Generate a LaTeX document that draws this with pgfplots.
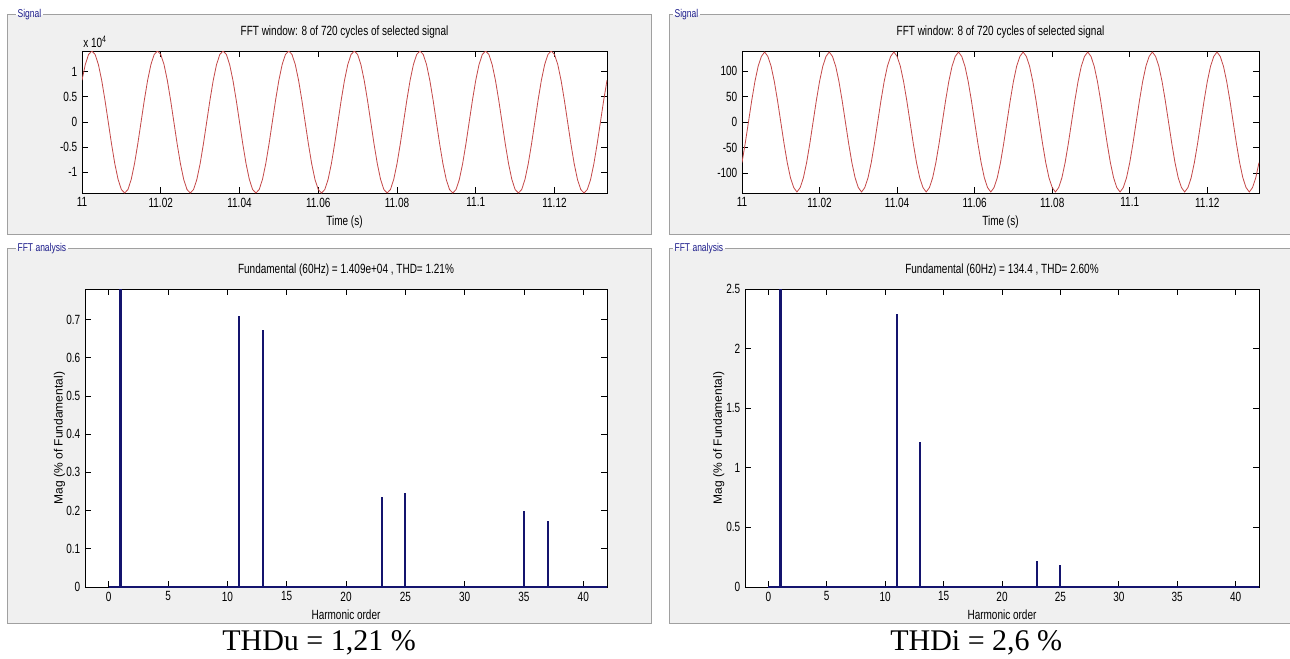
\documentclass[border=0pt]{standalone}
\usepackage{fontspec}
\setmainfont{Liberation Sans}
\newfontfamily\mfont[FakeStretch=0.75]{Liberation Sans}
\newfontfamily\tfont{Liberation Serif}
\usepackage{pgfplots}
\pgfplotsset{compat=1.18}
\usepackage{pgfplotstable}

\definecolor{sigred}{RGB}{196,72,72}
\definecolor{fftblue}{RGB}{20,20,110}
\definecolor{panelgray}{RGB}{240,240,240}
\definecolor{bordergray}{RGB}{160,160,160}
\definecolor{labelblue}{RGB}{30,30,140}

% time (s), line voltage u, current i
\pgfplotstableread{
t u i
11.000000 8288 -79.4
11.000833 11407 -41.7
11.001667 13410 0
11.002500 14100 41.7
11.003333 13410 79.4
11.004167 11407 109.2
11.005000 8288 128.4
11.005833 4357 137
11.006667 0 128.4
11.007500 -4357 109.2
11.008333 -8288 79.4
11.009167 -11407 41.7
11.010000 -13410 0
11.010833 -14100 -41.7
11.011667 -13410 -79.4
11.012500 -11407 -109.2
11.013333 -8288 -128.4
11.014167 -4357 -137
11.015000 0 -128.4
11.015833 4357 -109.2
11.016667 8288 -79.4
11.017500 11407 -41.7
11.018333 13410 0
11.019167 14100 41.7
11.020000 13410 79.4
11.020833 11407 109.2
11.021667 8288 128.4
11.022500 4357 137
11.023333 0 128.4
11.024167 -4357 109.2
11.025000 -8288 79.4
11.025833 -11407 41.7
11.026667 -13410 0
11.027500 -14100 -41.7
11.028333 -13410 -79.4
11.029167 -11407 -109.2
11.030000 -8288 -128.4
11.030833 -4357 -137
11.031667 0 -128.4
11.032500 4357 -109.2
11.033333 8288 -79.4
11.034167 11407 -41.7
11.035000 13410 0
11.035833 14100 41.7
11.036667 13410 79.4
11.037500 11407 109.2
11.038333 8288 128.4
11.039167 4357 137
11.040000 0 128.4
11.040833 -4357 109.2
11.041667 -8288 79.4
11.042500 -11407 41.7
11.043333 -13410 0
11.044167 -14100 -41.7
11.045000 -13410 -79.4
11.045833 -11407 -109.2
11.046667 -8288 -128.4
11.047500 -4357 -137
11.048333 0 -128.4
11.049167 4357 -109.2
11.050000 8288 -79.4
11.050833 11407 -41.7
11.051667 13410 0
11.052500 14100 41.7
11.053333 13410 79.4
11.054167 11407 109.2
11.055000 8288 128.4
11.055833 4357 137
11.056667 0 128.4
11.057500 -4357 109.2
11.058333 -8288 79.4
11.059167 -11407 41.7
11.060000 -13410 0
11.060833 -14100 -41.7
11.061667 -13410 -79.4
11.062500 -11407 -109.2
11.063333 -8288 -128.4
11.064167 -4357 -137
11.065000 0 -128.4
11.065833 4357 -109.2
11.066667 8288 -79.4
11.067500 11407 -41.7
11.068333 13410 0
11.069167 14100 41.7
11.070000 13410 79.4
11.070833 11407 109.2
11.071667 8288 128.4
11.072500 4357 137
11.073333 0 128.4
11.074167 -4357 109.2
11.075000 -8288 79.4
11.075833 -11407 41.7
11.076667 -13410 0
11.077500 -14100 -41.7
11.078333 -13410 -79.4
11.079167 -11407 -109.2
11.080000 -8288 -128.4
11.080833 -4357 -137
11.081667 0 -128.4
11.082500 4357 -109.2
11.083333 8288 -79.4
11.084167 11407 -41.7
11.085000 13410 0
11.085833 14100 41.7
11.086667 13410 79.4
11.087500 11407 109.2
11.088333 8288 128.4
11.089167 4357 137
11.090000 0 128.4
11.090833 -4357 109.2
11.091667 -8288 79.4
11.092500 -11407 41.7
11.093333 -13410 0
11.094167 -14100 -41.7
11.095000 -13410 -79.4
11.095833 -11407 -109.2
11.096667 -8288 -128.4
11.097500 -4357 -137
11.098333 0 -128.4
11.099167 4357 -109.2
11.100000 8288 -79.4
11.100833 11407 -41.7
11.101667 13410 0
11.102500 14100 41.7
11.103333 13410 79.4
11.104167 11407 109.2
11.105000 8288 128.4
11.105833 4357 137
11.106667 0 128.4
11.107500 -4357 109.2
11.108333 -8288 79.4
11.109167 -11407 41.7
11.110000 -13410 0
11.110833 -14100 -41.7
11.111667 -13410 -79.4
11.112500 -11407 -109.2
11.113333 -8288 -128.4
11.114167 -4357 -137
11.115000 0 -128.4
11.115833 4357 -109.2
11.116667 8288 -79.4
11.117500 11407 -41.7
11.118333 13410 0
11.119167 14100 41.7
11.120000 13410 79.4
11.120833 11407 109.2
11.121667 8288 128.4
11.122500 4357 137
11.123333 0 128.4
11.124167 -4357 109.2
11.125000 -8288 79.4
11.125833 -11407 41.7
11.126667 -13410 0
11.127500 -14100 -41.7
11.128333 -13410 -79.4
11.129167 -11407 -109.2
11.130000 -8288 -128.4
11.130833 -4357 -137
11.131667 0 -128.4
11.132500 4357 -109.2
11.133333 8288 -79.4
}\sigdata

\pgfplotsset{
  matlab/.style={
    scale only axis,
    axis background/.style={fill=white},
    tick align=inside,
    major tick length=4.5pt,
    tick style={black, line width=0.5pt},
    axis line style={black, line width=0.6pt},
    tick label style={font=\mfont\fontsize{10}{11}\selectfont},
    label style={font=\mfont\fontsize{10}{11}\selectfont},
    title style={font=\mfont\fontsize{10}{11}\selectfont},
    /pgf/number format/assume math mode=true,
  },
  sigaxis/.style={matlab, width=393.75pt, height=106.5pt,
    xmin=11, xmax=11.133333,
    xtick={11,11.02,11.04,11.06,11.08,11.1,11.12},
    xticklabels={11,11.02,11.04,11.06,11.08,11.1,11.12},
    xlabel={Time (s)},
    title={FFT window: 8 of 720 cycles of selected signal}},
  fftaxis/.style={matlab, height=223.5pt,
    xmin=-2, xmax=42, xtick={0,5,10,15,20,25,30,35,40},
    ymin=0, xlabel={Harmonic order},
    ylabel={Mag (\% of Fundamental)},
    ylabel style={font=\fontsize{9}{10}\selectfont, at={(axis description cs:-0.049,0.5)}, anchor=center}},
}

\begin{document}
\begin{tikzpicture}[x=0.75pt,y=0.75pt]
\useasboundingbox (0,0) rectangle (1290,658);
\clip (0,0) rectangle (1290,658);
\fill[white] (0,0) rectangle (1290,658);

% panels
\fill[panelgray] (7,423) rectangle (651,643);
\fill[panelgray] (7,35) rectangle (651,409);
\fill[panelgray] (669,423) rectangle (1300,643);
\fill[panelgray] (669,35) rectangle (1300,409);
\begin{scope}[every node/.style={anchor=west, inner sep=1pt, text=labelblue,
    font=\mfont\fontsize{8.5}{9}\selectfont}]
\node (a) at (16,643) {Signal};
\node (b) at (16,409) {FFT analysis};
\node (c) at (673,643) {Signal};
\node (d) at (673,409) {FFT analysis};
\end{scope}
\begin{scope}[bordergray, line width=0.75pt]
\draw (a.east) -- (651,643) -- (651,423) -- (7,423) -- (7,643) -- (a.west);
\draw (b.east) -- (651,409) -- (651,35) -- (7,35) -- (7,409) -- (b.west);
\draw (c.east) -- (1300,643) (1300,423) -- (669,423) -- (669,643) -- (c.west);
\draw (d.east) -- (1300,409) (1300,35) -- (669,35) -- (669,409) -- (d.west);
\end{scope}

% voltage signal
\begin{axis}[sigaxis, at={(61.5pt,348.75pt)}, anchor=south west,
  ymin=-14100, ymax=14100,
  ytick={-10000,-5000,0,5000,10000},
  yticklabels={-1,-0.5,0,0.5,1}, scaled y ticks=false]
\addplot[sigred, line width=0.6pt] table[x=t, y=u] {\sigdata};
\end{axis}
\node[anchor=west, inner sep=0pt, font=\mfont\fontsize{10}{11}\selectfont] at (83,616) {x 10\textsuperscript{4}};

% current signal
\begin{axis}[sigaxis, at={(556.5pt,348.75pt)}, anchor=south west,
  width=387.75pt,
  ymin=-139, ymax=139, ytick={-100,-50,0,50,100}]
\addplot[sigred, line width=0.6pt] table[x=t, y=i] {\sigdata};
\end{axis}

% voltage spectrum (fundamental = 100 %, cut at the top edge)
\begin{axis}[fftaxis, at={(63.75pt,53.25pt)}, anchor=south west,
  width=391.5pt, ymax=0.78,
  ytick={0,0.1,0.2,0.3,0.4,0.5,0.6,0.7},
  title={Fundamental (60Hz) = 1.409e+04 , THD= 1.21\%}]
\addplot[fftblue, line width=1.3pt] coordinates {(0,0) (42,0)};
\addplot[ycomb, fftblue, line width=2.2pt, restrict y to domain*=0:0.9] coordinates {(1,100)};
\addplot[ycomb, fftblue, line width=1.5pt] coordinates {
  (11,0.710) (13,0.672) (23,0.236) (25,0.247) (35,0.1995) (37,0.173)};
\end{axis}

% current spectrum
\begin{axis}[fftaxis, at={(558.75pt,53.25pt)}, anchor=south west,
  width=385.5pt, ymax=2.5,
  ytick={0,0.5,1,1.5,2,2.5},
  ylabel style={at={(axis description cs:-0.051,0.5)}},
  title={Fundamental (60Hz) = 134.4 , THD= 2.60\%}]
\addplot[fftblue, line width=1.3pt] coordinates {(0,0) (42,0)};
\addplot[ycomb, fftblue, line width=2.2pt, restrict y to domain*=0:3] coordinates {(1,100)};
\addplot[ycomb, fftblue, line width=1.5pt] coordinates {
  (11,2.287) (13,1.213) (23,0.216) (25,0.183) (37,0.01)};
\end{axis}

% captions
\node[anchor=base west, inner sep=0pt, font=\tfont\fontsize{22.5}{26}\selectfont] at (222,8) {THDu = 1,21 \%};
\node[anchor=base west, inner sep=0pt, font=\tfont\fontsize{22.5}{26}\selectfont] at (890,8) {THDi = 2,6 \%};
\end{tikzpicture}
\end{document}
